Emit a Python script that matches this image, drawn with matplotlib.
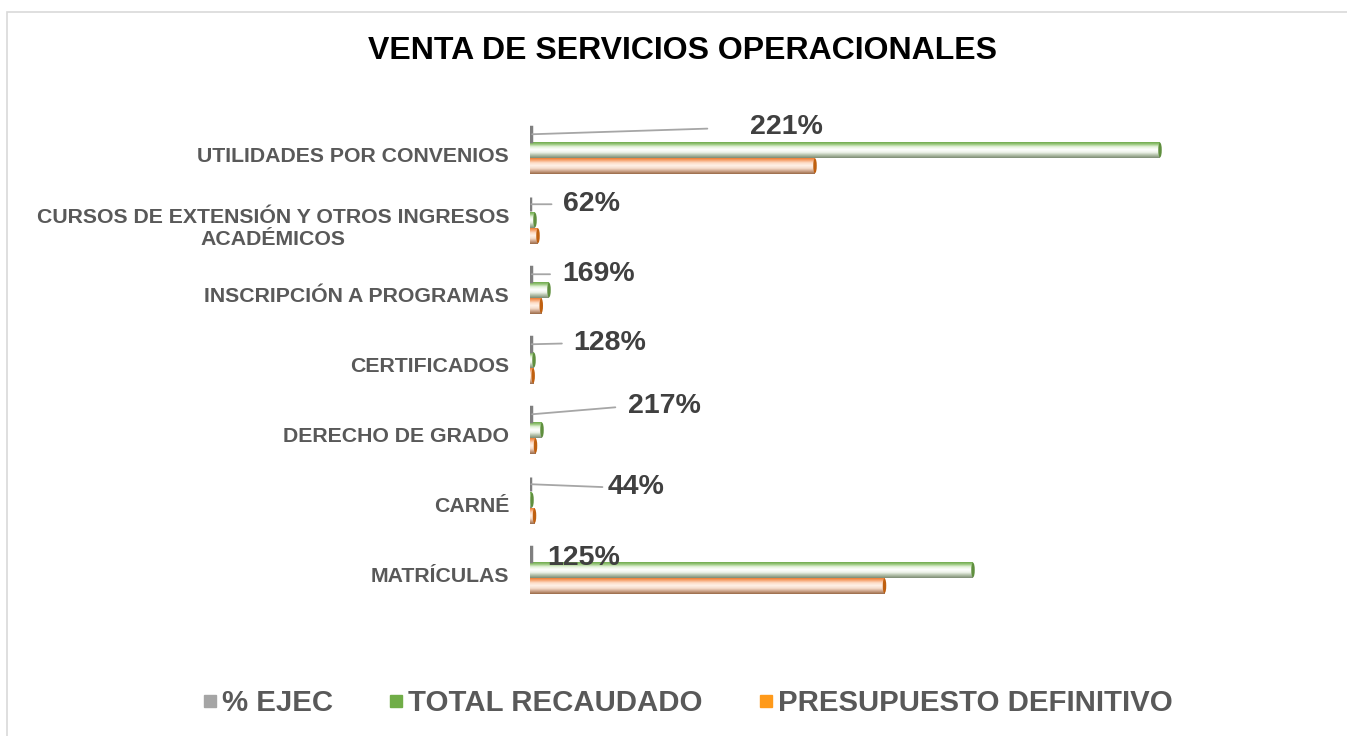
import numpy as np
import matplotlib
matplotlib.use('Agg')
import matplotlib.pyplot as plt
import matplotlib.transforms as mtransforms
from matplotlib.patches import Rectangle
from matplotlib.lines import Line2D

plt.rcParams['font.family'] = ['Liberation Sans', 'DejaVu Sans']

# categorias de abajo hacia arriba
categorias = ['MATRÍCULAS', 'CARNÉ', 'DERECHO DE GRADO', 'CERTIFICADOS',
              'INSCRIPCIÓN A PROGRAMAS',
              'CURSOS DE EXTENSIÓN Y OTROS INGRESOS\nACADÉMICOS',
              'UTILIDADES POR CONVENIOS']
# valores en millones
presupuesto = [709, 9, 11, 6.3, 22.5, 16, 570]
recaudado = [886, 4, 24, 8, 38, 10, 1260]
pct_ejec = [1.25, 0.44, 2.17, 1.28, 1.69, 0.62, 2.21]
pct_labels = ['125%', '44%', '217%', '128%', '169%', '62%', '221%']

# posicion de las etiquetas (pixeles, respecto a la barra gris) y hueco de la linea guia
label_off = [(16, -4, None), (76, -3, 2), (96, 8, 10), (42, 1, 9),
             (30, 0, 9), (32, 0, 9), (218, 7, 40)]

fig = plt.figure(figsize=(13.47, 7.36), dpi=100)
fig.patches.append(Rectangle((7/1347, -0.05), 1.0, 1.05 - 12/736, transform=fig.transFigure,
                             fill=False, edgecolor='#D9D9D9', lw=1.2))
ax = fig.add_axes([530/1347, 1 - 612/736, 700/1347, 504/736])

y = np.arange(len(categorias))
h = 0.23
off = 0.225


def gradient_bars(ax, ys, vals, stops, cap):
    cmap = matplotlib.colors.LinearSegmentedColormap.from_list('g', stops)
    grad = np.linspace(0, 1, 64).reshape(-1, 1)
    bars = ax.barh(ys, vals, height=h, color='none', edgecolor='none')
    for b in bars:
        x0, y0 = b.get_x(), b.get_y()
        w, hh = b.get_width(), b.get_height()
        im = ax.imshow(grad, cmap=cmap, aspect='auto', origin='upper',
                       extent=(x0, x0 + w, y0, y0 + hh), zorder=2)
        im.set_clip_path(b)
        # tapa redondeada del cilindro
        ax.add_patch(matplotlib.patches.Ellipse((x0 + w, y0 + hh / 2), 7, hh * 0.92,
                                                facecolor=cap, edgecolor='none', zorder=3))
    return bars


green_stops = ['#5f9e3a', '#93c474', '#e4f2da', '#ffffff', '#eef3ea', '#b3c1aa', '#7d8c74']
orange_stops = ['#e46c1a', '#f6a068', '#fddcc6', '#fff2e8', '#f5dccb', '#cda48a', '#9a6a48']
gradient_bars(ax, y, recaudado, green_stops, '#5f8f3e')
gradient_bars(ax, y - off, presupuesto, orange_stops, '#c0600f')
ax.barh(y + off, pct_ejec, height=h * 0.85, color='#7f7f7f', edgecolor='#7f7f7f', lw=2.5, zorder=3)

for i in range(len(y)):
    dx, dy, gap = label_off[i]
    arrow = None
    if gap is not None:
        arrow = dict(arrowstyle='-', color='#A6A6A6', lw=1.3,
                     relpos=(0, 0.5), shrinkA=gap * 0.72, shrinkB=0)
    ax.annotate(pct_labels[i], xy=(pct_ejec[i] + 2, y[i] + off), xytext=(dx, dy),
                textcoords='offset pixels', ha='left', va='center',
                fontsize=20.5, fontweight='bold', color='#404040',
                arrowprops=arrow, zorder=5)

ax.set_xlim(0, 1400)
ax.set_ylim(-0.6, 6.6)
ax.set_yticks(y)
ax.set_yticklabels(categorias, fontsize=15.3, fontweight='bold', color='#595959',
                   multialignment='center')
ax.tick_params(axis='y', length=0, pad=15)
# las etiquetas quedan un poco mas abajo que el centro del grupo
shift = mtransforms.ScaledTranslation(0, -5/100, fig.dpi_scale_trans)
for lab in ax.get_yticklabels():
    lab.set_transform(lab.get_transform() + shift)
ax.set_xticks([])
for s in ax.spines.values():
    s.set_visible(False)

fig.text(683/1347, 1 - 51/736, 'VENTA DE SERVICIOS OPERACIONALES', ha='center', va='center',
         fontsize=23, fontweight='bold', color='black')

handles = [Line2D([], [], marker='s', ls='none', markersize=9, color=c)
           for c in ['#a5a5a5', '#70ad47', '#ff9a1a']]
fig.legend(handles, ['% EJEC', 'TOTAL RECAUDADO', 'PRESUPUESTO DEFINITIVO'],
           loc='center', bbox_to_anchor=(686/1347, 1 - 703/736), ncol=3, frameon=False,
           prop={'size': 21.2, 'weight': 'bold'}, labelcolor='#595959',
           handletextpad=0.05, columnspacing=1.8, handlelength=0.7)

fig.savefig('out.png', dpi=100)
